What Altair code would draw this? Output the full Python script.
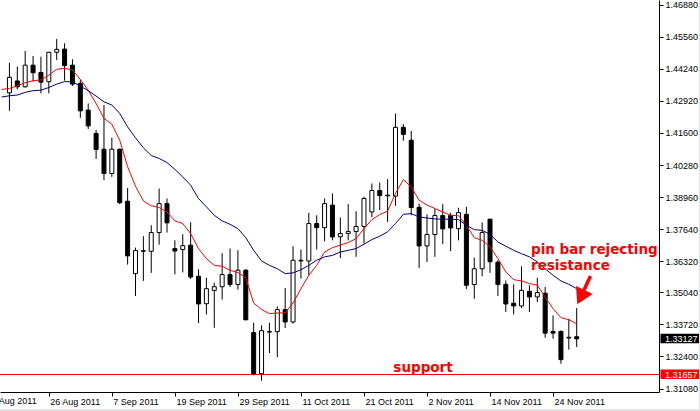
import altair as alt
import pandas as pd

# ---- daily EUR/USD candles, 19 Aug 2011 .. 29 Nov 2011 (index 0..72) ----
opens = [1.4325, 1.4374, 1.4350, 1.4439, 1.4409, 1.4371, 1.4492, 1.4505, 1.4439, 1.4364,
         1.4254, 1.4158, 1.4093, 1.3993, 1.4093, 1.3879, 1.3581, 1.3675, 1.3673, 1.3750,
         1.3869, 1.3684, 1.3680, 1.3698, 1.3570, 1.3457, 1.3512, 1.3527, 1.3577, 1.3536,
         1.3595, 1.3338, 1.3169, 1.3340, 1.3342, 1.3433, 1.3382, 1.3633, 1.3633, 1.3787,
         1.3770, 1.3863, 1.3733, 1.3746, 1.3754, 1.3775, 1.3835, 1.3923, 1.3901, 1.3900,
         1.4183, 1.4130, 1.3854, 1.3695, 1.3742, 1.3820, 1.3820, 1.3766, 1.3825, 1.3536,
         1.3601, 1.3805, 1.3628, 1.3537, 1.3459, 1.3448, 1.3508, 1.3485, 1.3500, 1.3343,
         1.3343, 1.3316, 1.3321]
highs = [1.4449, 1.4433, 1.4497, 1.4477, 1.4474, 1.4494, 1.4547, 1.4529, 1.4463, 1.4380,
         1.4281, 1.4172, 1.4275, 1.4141, 1.4096, 1.3933, 1.3688, 1.3735, 1.3780, 1.3931,
         1.3890, 1.3718, 1.3743, 1.3792, 1.3599, 1.3564, 1.3544, 1.3665, 1.3684, 1.3677,
         1.3599, 1.3379, 1.3368, 1.3379, 1.3446, 1.3522, 1.3694, 1.3680, 1.3831, 1.3821,
         1.3890, 1.3911, 1.3812, 1.3867, 1.3838, 1.3897, 1.3952, 1.3956, 1.3970, 1.4240,
         1.4196, 1.4168, 1.3869, 1.3825, 1.3847, 1.3867, 1.3831, 1.3852, 1.3856, 1.3647,
         1.3792, 1.3806, 1.3636, 1.3553, 1.3537, 1.3611, 1.3533, 1.3564, 1.3526, 1.3409,
         1.3347, 1.3395, 1.3439]
lows = [1.4251, 1.4339, 1.4347, 1.4371, 1.4323, 1.4323, 1.4460, 1.4375, 1.4353, 1.4222,
        1.4176, 1.4053, 1.3966, 1.3979, 1.3867, 1.3618, 1.3489, 1.3551, 1.3584, 1.3700,
        1.3750, 1.3578, 1.3586, 1.3559, 1.3378, 1.3413, 1.3358, 1.3474, 1.3526, 1.3515,
        1.3389, 1.3162, 1.3140, 1.3254, 1.3237, 1.3357, 1.3375, 1.3560, 1.3574, 1.3680,
        1.3714, 1.3718, 1.3645, 1.3718, 1.3650, 1.3705, 1.3814, 1.3842, 1.3794, 1.3860,
        1.4128, 1.3821, 1.3604, 1.3629, 1.3650, 1.3703, 1.3674, 1.3718, 1.3518, 1.3477,
        1.3570, 1.3584, 1.3489, 1.3423, 1.3413, 1.3439, 1.3423, 1.3464, 1.3317, 1.3313,
        1.3210, 1.3268, 1.3279]
closes = [1.4389, 1.4350, 1.4439, 1.4408, 1.4369, 1.4492, 1.4504, 1.4437, 1.4361, 1.4251,
          1.4189, 1.4092, 1.3993, 1.4093, 1.3873, 1.3654, 1.3676, 1.3673, 1.3750, 1.3869,
          1.3790, 1.3674, 1.3696, 1.3567, 1.3456, 1.3519, 1.3527, 1.3577, 1.3536, 1.3595,
          1.3391, 1.3169, 1.3346, 1.3343, 1.3433, 1.3382, 1.3636, 1.3636, 1.3787, 1.3770,
          1.3869, 1.3732, 1.3746, 1.3754, 1.3775, 1.3890, 1.3923, 1.3902, 1.3904, 1.4183,
          1.4154, 1.3853, 1.3695, 1.3742, 1.3820, 1.3765, 1.3769, 1.3832, 1.3533, 1.3601,
          1.3750, 1.3630, 1.3536, 1.3456, 1.3448, 1.3512, 1.3485, 1.3503, 1.3336, 1.3336,
          1.3227, 1.3319, 1.33127]

# ---- moving averages (index -1 .. 72) ----
red_ma = [1.4339,
          1.4343, 1.4354, 1.4367, 1.4375, 1.4378, 1.4398, 1.4422, 1.4426, 1.4419, 1.4380,
          1.4336, 1.4281, 1.4220, 1.4196, 1.4130, 1.4021, 1.3941, 1.3880, 1.3860, 1.3853,
          1.3835, 1.3798, 1.3787, 1.3746, 1.3684, 1.3643, 1.3615, 1.3611, 1.3595, 1.3585,
          1.3564, 1.3460, 1.3433, 1.3416, 1.3419, 1.3419, 1.3460, 1.3519, 1.3574, 1.3615,
          1.3670, 1.3688, 1.3698, 1.3709, 1.3725, 1.3766, 1.3803, 1.3824, 1.3838, 1.3911,
          1.3968, 1.3938, 1.3883, 1.3863, 1.3849, 1.3835, 1.3821, 1.3819, 1.3780, 1.3729,
          1.3718, 1.3691, 1.3643, 1.3588, 1.3556, 1.3551, 1.3540, 1.3533, 1.3485, 1.3437,
          1.3400, 1.3391, 1.3375]
blue_ma = [1.4308,
           1.4313, 1.4316, 1.4327, 1.4334, 1.4336, 1.4347, 1.4361, 1.4371, 1.4371, 1.4353,
           1.4334, 1.4312, 1.4288, 1.4275, 1.4240, 1.4185, 1.4140, 1.4099, 1.4067, 1.4055,
           1.4038, 1.4010, 1.3979, 1.3945, 1.3890, 1.3856, 1.3821, 1.3798, 1.3784, 1.3766,
           1.3729, 1.3677, 1.3633, 1.3615, 1.3601, 1.3581, 1.3584, 1.3597, 1.3615, 1.3636,
           1.3650, 1.3656, 1.3670, 1.3677, 1.3684, 1.3702, 1.3721, 1.3735, 1.3753, 1.3787,
           1.3825, 1.3828, 1.3814, 1.3810, 1.3806, 1.3805, 1.3805, 1.3803, 1.3780, 1.3762,
           1.3759, 1.3743, 1.3711, 1.3694, 1.3677, 1.3663, 1.3650, 1.3629, 1.3601, 1.3574,
           1.3551, 1.3537, 1.3519]

# ---- axes ----
tick_idx = [-3, 5, 13, 21, 29, 37, 45, 53, 61, 69]
tick_labels = ["16 Aug 2011", "26 Aug 2011", "7 Sep 2011", "19 Sep 2011", "29 Sep 2011",
               "11 Oct 2011", "21 Oct 2011", "2 Nov 2011", "14 Nov 2011", "24 Nov 2011"]
y_ticks = [1.46880, 1.45560, 1.44240, 1.42920, 1.41600, 1.40280, 1.38960,
           1.37640, 1.36320, 1.35040, 1.33720, 1.32400, 1.31080]

support_level = 1.31657
last_close = 1.33127

# ---- annotations (index, price) ----
ann_text = ["support", "pin bar rejecting", "resistance"]
ann_i = [48.73, 66.2, 66.2]
ann_p = [1.31772, 1.36605, 1.35959]
arrow_i = [73.75, 72.52]
arrow_p = [1.35712, 1.34843]

# ---------------------------------------------------------------
n = len(opens)
candles = pd.DataFrame({
    "i": list(range(n)), "open": opens, "high": highs, "low": lows, "close": closes,
})
candles["body"] = ["#ffffff" if c >= o else "#000000" for o, c in zip(opens, closes)]

ma = pd.DataFrame({"i": list(range(-1, n)), "red": red_ma, "blue": blue_ma})

xscale = alt.Scale(domain=[-0.5625, 81.8125], nice=False, zero=False)
yscale = alt.Scale(domain=[1.30937, 1.47072], nice=False, zero=False)

label_expr = " : ".join(
    f"datum.value == {v} ? '{l}'" for v, l in zip(tick_idx, tick_labels)
) + " : ''"

xaxis = alt.Axis(values=tick_idx, labelExpr=label_expr, orient="bottom", grid=False,
                 domainColor="black", tickColor="black", tickSize=4, labelAlign="left",
                 labelBaseline="top", labelPadding=1, labelFont="Liberation Sans",
                 labelFontSize=9, labelColor="black", labelFlush=False,
                 labelOverlap=False, title=None, labelOffset=1)
yaxis = alt.Axis(values=y_ticks, format=".5f", orient="right", grid=False,
                 domainColor="black", tickColor="black", tickSize=4, labelPadding=2,
                 labelFont="Liberation Sans", labelFontSize=9, labelColor="black",
                 labelFlush=False, labelOverlap=False, title=None)


def X(field):
    return alt.X(field, type="quantitative", scale=xscale, axis=xaxis)


def Y(field):
    return alt.Y(field, type="quantitative", scale=yscale, axis=yaxis)


levels = pd.DataFrame({"p": [support_level]})
support_line = alt.Chart(levels).mark_rule(color="#ff0000", strokeWidth=1).encode(y=Y("p"))

wicks = alt.Chart(candles).mark_rule(color="black", strokeWidth=1).encode(
    x=X("i"), y=Y("low"), y2="high")

bodies = alt.Chart(candles).mark_bar(size=4, stroke="black", strokeWidth=1).encode(
    x=X("i"), y=Y("open"), y2="close",
    fill=alt.Fill("body:N", scale=None))

red_line = alt.Chart(ma).mark_line(color="#ff0000", strokeWidth=1, clip=True).encode(
    x=X("i"), y=Y("red"))
blue_line = alt.Chart(ma).mark_line(color="#000080", strokeWidth=1, clip=True).encode(
    x=X("i"), y=Y("blue"))

ann = pd.DataFrame({"i": ann_i, "p": ann_p, "t": ann_text})
ann_layer = alt.Chart(ann).mark_text(align="left", baseline="alphabetic", color="#ff0000",
                                     font="DejaVu Sans", fontWeight="bold", fontSize=13.5).encode(
    x=X("i"), y=Y("p"), text="t:N")

arrow = pd.DataFrame({"i": arrow_i, "p": arrow_p})
arrow_shaft = alt.Chart(arrow).mark_line(color="#ff0000", strokeWidth=3.5).encode(
    x=X("i"), y=Y("p"))
arrow_head = alt.Chart(arrow.tail(1)).mark_point(shape="triangle-up", angle=206, size=340,
                                                 filled=True, color="#ff0000", opacity=1).encode(
    x=X("i"), y=Y("p"))

# the first, partly hidden date label (its tick falls left of the plot)
first_lab = pd.DataFrame({"i": [tick_idx[0]], "t": [tick_labels[0]]})
first_label = alt.Chart(first_lab).mark_text(align="left", baseline="top", dx=1,
                                             font="Liberation Sans", fontSize=9,
                                             color="black").encode(
    x=X("i"), y=alt.value(397), text="t:N")

boxes = pd.DataFrame({"p": [last_close, support_level],
                      "label": [f"{last_close:.5f}", f"{support_level:.5f}"],
                      "bg": ["#000000", "#ff0000"]})
box_rect = alt.Chart(boxes).mark_rect(yOffset=-5, y2Offset=4.5).encode(
    x=alt.value(660.5), x2=alt.value(699), y=Y("p"), y2="p",
    fill=alt.Fill("bg:N", scale=None))
box_text = alt.Chart(boxes).mark_text(align="left", baseline="middle", color="white",
                                      font="Liberation Sans", fontSize=9).encode(
    x=alt.value(665), y=Y("p"), text="label:N")

edge_bottom = alt.Chart(levels).mark_rule(color="#e4e4e4", strokeWidth=2).encode(
    x=alt.value(0), x2=alt.value(700), y=alt.value(410))
edge_right = alt.Chart(levels).mark_rule(color="#e4e4e4", strokeWidth=1).encode(
    x=alt.value(699.5), y=alt.value(0), y2=alt.value(411))

chart = alt.layer(
    support_line, wicks, bodies, red_line, blue_line, ann_layer, arrow_shaft, arrow_head,
    first_label, box_rect, box_text, edge_bottom, edge_right
).properties(
    width=659, height=392,
    padding={"left": 0, "top": 0, "right": 41, "bottom": 19},
    autosize=alt.AutoSizeParams(type="none"),
    background="white",
).configure_view(stroke=None)

chart.save("out.html", embed_options={"renderer": "svg", "actions": False})
